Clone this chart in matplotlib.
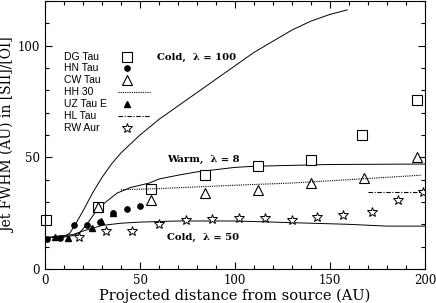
import numpy as np
import matplotlib
matplotlib.use("Agg")
import matplotlib.pyplot as plt
from matplotlib.ticker import MultipleLocator

# model curves
cold100_x = [0, 10, 13, 16, 20, 25, 30, 35, 40, 50, 60, 70, 80, 90, 100, 110, 120, 130, 140, 150, 159]
cold100_y = [14, 14.5, 16, 20, 26, 34, 41, 47, 52, 60, 67, 73, 79, 85, 91, 97, 102, 107, 111, 114, 116]
warm8_x = [0, 10, 15, 18, 22, 27, 32, 38, 45, 55, 60, 70, 80, 90, 100, 110, 130, 150, 200]
warm8_y = [14, 14.3, 15, 16, 20, 26, 30, 34, 36.5, 38.5, 40.3, 42, 43.5, 44.5, 45.5, 46, 46.4, 46.8, 47]
cold50_x = [0, 15, 20, 30, 40, 50, 70, 100, 120, 140, 160, 180, 200]
cold50_y = [14, 15.5, 17, 19.5, 20.5, 21, 21.5, 21.5, 21, 20.5, 20, 19.2, 19.2]

# observations
dg_x = [0.5, 28, 56, 84, 112, 140, 167, 196]
dg_y = [22, 27.7, 36, 42, 46, 49, 60, 75.5]
hn_x = [1, 8, 15, 22, 29, 36, 43, 50]
hn_y = [13.5, 13.8, 19.6, 19.8, 21, 25, 27, 28]
cw_x = [28, 56, 84, 112, 140, 168, 196]
cw_y = [27.7, 30.8, 34, 35.3, 38.4, 40.6, 50]
hh30_x = [40, 60, 100, 130, 160, 198]
hh30_y = [35.5, 36, 37.5, 38.5, 40, 42]
uz_x = [5, 12, 24.5, 29.5, 36]
uz_y = [14.5, 14, 18.5, 21.5, 25]
hl_x = [170, 199]
hl_y = [34.4, 34.4]
rw_x = [18, 32, 46, 60, 74, 88, 102, 116, 130, 143, 157, 172, 186, 199]
rw_y = [14.3, 17, 17, 20, 22, 22.3, 22.8, 22.8, 22, 23.2, 24.1, 25.4, 30.8, 34.5]

names = ['DG Tau', 'HN Tau', 'CW Tau', 'HH 30', 'UZ Tau E', 'HL Tau', 'RW Aur']

plt.rcParams['font.family'] = 'DejaVu Serif'

fig = plt.figure(figsize=(4.36, 3.03), dpi=100)
ax = fig.add_axes([45/436, 1 - 269/303, 380/436, 268/303])

lw = 0.7
ax.plot(cold100_x, cold100_y, color='black', lw=lw)
ax.plot(warm8_x, warm8_y, color='black', lw=lw)
ax.plot(cold50_x, cold50_y, color='black', lw=lw)

sq = dict(marker='s', mfc='white', mec='black', ms=6.5, mew=0.8, ls='none')
dot = dict(marker='o', color='black', ms=3.8, ls='none')
tri = dict(marker='^', mfc='white', mec='black', ms=7, mew=0.8, ls='none')
dotted = dict(color='black', lw=0.8, ls=(0, (1, 1)))
ftri = dict(marker='^', color='black', ms=4.5, ls='none')
dashdot = dict(color='black', lw=0.8, ls=(0, (4, 1.5, 1, 1.5)))
star = dict(marker='*', mfc='white', mec='black', ms=7, mew=0.7, ls='none')

ax.plot(dg_x, dg_y, clip_on=False, **sq)
ax.plot(hn_x, hn_y, **dot)
ax.plot(cw_x, cw_y, **tri)
ax.plot(hh30_x, hh30_y, **dotted)
ax.plot(uz_x, uz_y, **ftri)
ax.plot(hl_x, hl_y, **dashdot)
ax.plot(rw_x, rw_y, **star)

# legend, drawn by hand: names on the left, symbols to the right
styles = [sq, dot, tri, dotted, ftri, dashdot, star]
rows_px = [57, 68, 80, 92, 104, 116, 128]
tr = ax.transAxes
for name, st, py in zip(names, styles, rows_px):
    yy = (269 - py) / 268
    ax.text(0.05, yy, name, transform=tr, va='center', ha='left',
            family='Liberation Sans', fontsize=7.5)
    if 'marker' in st:
        ax.plot([0.216], [yy], transform=tr, clip_on=False, **st)
    else:
        ax.plot([0.192, 0.276], [yy, yy], transform=tr, **st)

tkw = dict(fontsize=7.2, fontweight='bold', va='center')
ax.text(59, 94.6, 'Cold,  \u03bb = 100', **tkw)
ax.text(64.5, 49, 'Warm,  \u03bb = 8', **tkw)
ax.text(64, 14.3, 'Cold,  \u03bb = 50', **tkw)

ax.set_xlim(0, 200)
ax.set_ylim(0, 120)
ax.xaxis.set_major_locator(MultipleLocator(50))
ax.xaxis.set_minor_locator(MultipleLocator(10))
ax.yaxis.set_major_locator(MultipleLocator(50))
ax.yaxis.set_minor_locator(MultipleLocator(10))
ax.tick_params(which='both', direction='in', top=True, right=True, labelsize=8.5, width=0.8)
ax.tick_params(which='major', length=5)
ax.tick_params(which='minor', length=3)
for s in ax.spines.values():
    s.set_linewidth(0.8)

ax.set_xlabel('Projected distance from source (AU)', fontsize=10.5, labelpad=1)
ax.set_ylabel('Jet FWHM (AU) in [SII]/[OI]', fontsize=10, labelpad=2)

fig.savefig('out.png', dpi=100)
